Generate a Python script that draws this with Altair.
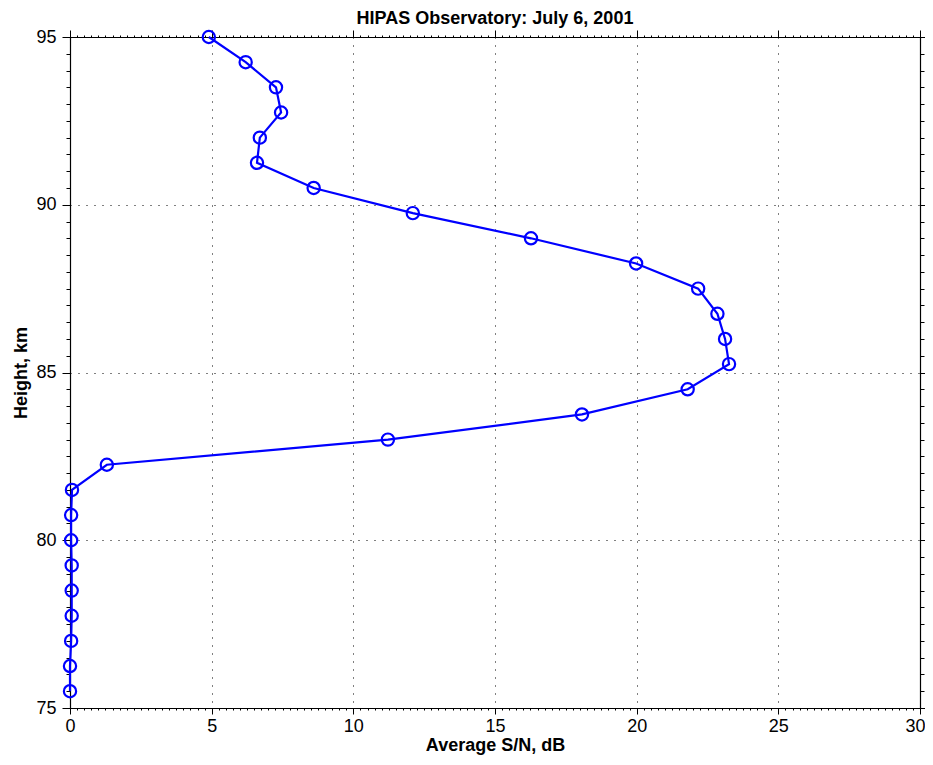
import altair as alt
import pandas as pd

# ---- data ----
height_km = [75.5, 76.25, 77.0, 77.75, 78.5, 79.25, 80.0, 80.75, 81.5, 82.25,
             83.0, 83.75, 84.5, 85.25, 86.0, 86.75, 87.5, 88.25, 89.0, 89.75,
             90.5, 91.25, 92.0, 92.75, 93.5, 94.25, 95.0]
snr_db = [0.0, 0.0, 0.04, 0.06, 0.06, 0.06, 0.04, 0.04, 0.07, 1.3,
          11.22, 18.07, 21.8, 23.26, 23.12, 22.85, 22.17, 19.98, 16.27, 12.1,
          8.6, 6.6, 6.7, 7.45, 7.27, 6.2, 4.9]

x_major = [0, 5, 10, 15, 20, 25, 30]
y_major = [75, 80, 85, 90, 95]
x_minor = [i * 0.25 for i in range(0, 121)]
y_minor = [75 + i * 0.5 for i in range(0, 41)]

df = pd.DataFrame({"snr": snr_db, "h": height_km})

FONT = "Liberation Sans"
BLUE = "#0000ff"

xs = alt.Scale(domain=[0, 30], nice=False, zero=False)
ys = alt.Scale(domain=[75, 95], nice=False, zero=False)

common = dict(domainColor="black", domainWidth=1.2, tickColor="black",
              tickWidth=1, labelFont=FONT, labelFontSize=18, labelColor="black",
              titleFont=FONT, titleFontSize=18, titleFontWeight="bold",
              titleColor="black")

base = alt.Chart(df)

line = base.mark_line(color=BLUE, strokeWidth=2.2).encode(
    x=alt.X("snr:Q", scale=xs, axis=alt.Axis(
        orient="bottom", values=x_major, title="Average S/N, dB",
        grid=True, gridColor="black", gridDash=[1, 7], gridWidth=1,
        tickSize=6, labelPadding=3, titleY=42, titleBaseline="alphabetic",
        labelFlush=True, labelFlushOffset=5,
        **common)),
    y=alt.Y("h:Q", scale=ys, axis=alt.Axis(
        orient="left", values=y_major, title="Height, km",
        grid=True, gridColor="black", gridDash=[1, 7], gridWidth=1,
        tickSize=8, labelPadding=6, titlePadding=5, labelFlush=False,
        **common)),
    order=alt.Order("h:Q"),
)

points = base.mark_point(shape="circle", filled=False, color=BLUE,
                         strokeWidth=2.2, size=150, opacity=1).encode(
    x=alt.X("snr:Q", scale=xs, axis=alt.Axis(
        orient="top", values=x_major, title=None, labels=False, grid=False,
        tickSize=7, **common)),
    y=alt.Y("h:Q", scale=ys, axis=alt.Axis(
        orient="right", values=y_major, title=None, labels=False, grid=False,
        tickSize=7, **common)),
)

minor1 = base.mark_point(opacity=0).encode(
    x=alt.X("snr:Q", scale=xs, axis=alt.Axis(
        orient="bottom", values=x_minor, title=None, labels=False, grid=False,
        domain=False, tickSize=2, tickColor="black")),
    y=alt.Y("h:Q", scale=ys, axis=alt.Axis(
        orient="left", values=y_minor, title=None, labels=False, grid=False,
        domain=False, tickSize=4, tickColor="black")),
)

minor2 = base.mark_point(opacity=0).encode(
    x=alt.X("snr:Q", scale=xs, axis=alt.Axis(
        orient="top", values=x_minor, title=None, labels=False, grid=False,
        domain=False, tickSize=2, tickColor="black")),
    y=alt.Y("h:Q", scale=ys, axis=alt.Axis(
        orient="right", values=y_minor, title=None, labels=False, grid=False,
        domain=False, tickSize=4, tickColor="black")),
)

chart = alt.layer(line, points, minor1, minor2).resolve_axis(
    x="independent", y="independent"
).properties(
    width=850,
    height=671,
    title=alt.TitleParams("HIPAS Observatory: July 6, 2001", font=FONT,
                          fontSize=18, fontWeight="bold", color="black",
                          anchor="middle", offset=-2),
    autosize=alt.AutoSizeParams(type="none"),
    padding={"left": 62, "top": 29, "right": 5, "bottom": 48},
).configure_view(stroke=None).configure(background="white")

chart.save("out.html", embed_options={"renderer": "svg", "actions": False})
